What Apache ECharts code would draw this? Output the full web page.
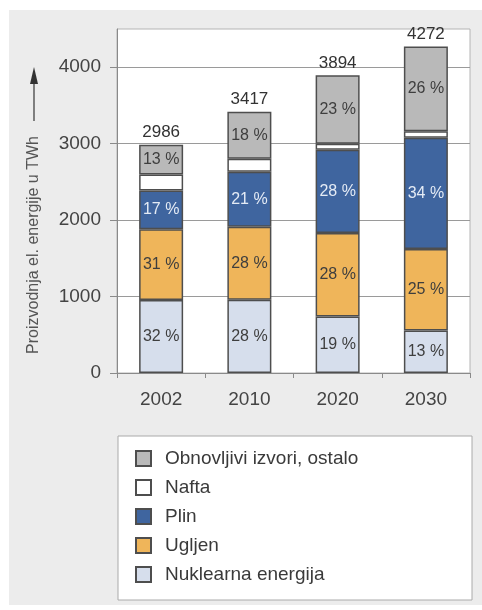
<!DOCTYPE html>
<html>
<head>
<meta charset="utf-8">
<script src="https://cdn.jsdelivr.net/npm/echarts@6/dist/echarts.min.js"></script>
<style>
  html, body { margin: 0; padding: 0; background: #fff; }
  #chart { width: 482px; height: 610px; }
</style>
</head>
<body>
<div id="chart"></div>
<script>
// Electricity generation by source (TWh) with shares in percent
const years = ['2002', '2010', '2020', '2030'];
const totals = [2986, 3417, 3894, 4272];
const nuclearPct = [32, 28, 19, 13];
const coalPct = [31, 28, 28, 25];
const gasPct = [17, 21, 28, 34];
const oilPct = [7, 5, 2, 2];
const renewPct = [13, 18, 23, 26];
const yTicks = [0, 1000, 2000, 3000, 4000];

const FONT = '"Liberation Sans", Arial, Helvetica, sans-serif';
const BORDER = '#4e4e4e';

function share(pcts) {
  return pcts.map((p, i) => totals[i] * p / 100);
}

function segment(name, pcts, color, labelColor, showLabel) {
  return {
    name: name,
    type: 'bar',
    stack: 'total',
    barWidth: 44,
    data: share(pcts),
    itemStyle: { color: color, borderColor: BORDER, borderWidth: 1.5 },
    label: {
      show: showLabel,
      position: 'inside',
      fontFamily: FONT,
      fontSize: 16,
      color: labelColor,
      formatter: p => pcts[p.dataIndex] + ' %'
    },
    emphasis: { disabled: true }
  };
}

const chart = echarts.init(document.getElementById('chart'), null, { renderer: 'canvas' });

chart.setOption({
  backgroundColor: '#ffffff',
  animation: false,
  textStyle: { fontFamily: FONT },
  grid: {
    left: 117, right: 12, top: 29, bottom: 237,
    show: true, backgroundColor: '#ffffff', borderColor: '#b4b4b4', borderWidth: 1
  },
  legend: {
    orient: 'vertical',
    left: 135,
    top: 449,
    padding: 0,
    itemWidth: 15,
    itemHeight: 15,
    itemGap: 10,
    icon: 'rect',
    data: ['Obnovljivi izvori, ostalo', 'Nafta', 'Plin', 'Ugljen', 'Nuklearna energija'],
    textStyle: { fontFamily: FONT, fontSize: 19, color: '#3a3a3a', padding: [0, 0, 0, 9] },
    selectedMode: false
  },
  xAxis: {
    type: 'category',
    data: years,
    axisLine: { lineStyle: { color: '#8a8a8a', width: 1 } },
    axisTick: { show: true, alignWithLabel: false, length: 5, lineStyle: { color: '#8a8a8a' } },
    axisLabel: { fontFamily: FONT, fontSize: 19, color: '#444', margin: 17 }
  },
  yAxis: {
    type: 'value',
    min: 0,
    max: 4500,
    interval: 1000,
    axisLine: { show: true, lineStyle: { color: '#8a8a8a', width: 1 } },
    axisTick: { show: true, length: 7, lineStyle: { color: '#8a8a8a' }, customValues: yTicks },
    axisLabel: {
      fontFamily: FONT, fontSize: 19, color: '#444', margin: 16,
      customValues: yTicks,
      formatter: v => String(v)
    },
    splitLine: { show: true, lineStyle: { color: '#9a9a9a', width: 1 } }
  },
  series: [
    segment('Nuklearna energija', nuclearPct, '#d6deec', '#3e3e3e', true),
    segment('Ugljen', coalPct, '#efb55a', '#3e3e3e', true),
    segment('Plin', gasPct, '#3f659f', '#e4ebf5', true),
    segment('Nafta', oilPct, '#ffffff', '#3e3e3e', false),
    segment('Obnovljivi izvori, ostalo', renewPct, '#b9b9b9', '#3e3e3e', true),
    {
      // zero-height cap carrying the total of each column
      name: 'Ukupno',
      type: 'bar',
      stack: 'total',
      barWidth: 44,
      data: totals.map(() => 0),
      itemStyle: { color: 'rgba(0,0,0,0)', borderWidth: 0 },
      label: {
        show: true,
        position: 'top',
        distance: 4,
        fontFamily: FONT,
        fontSize: 17,
        color: '#333',
        formatter: p => String(totals[p.dataIndex])
      },
      emphasis: { disabled: true }
    }
  ],
  graphic: [
    {
      type: 'rect', z: -10, silent: true,
      shape: { x: 9, y: 10, width: 473, height: 595 },
      style: { fill: '#ececec' }
    },
    {
      type: 'rect', z: 1, silent: true,
      shape: { x: 118, y: 436, width: 354, height: 164 },
      style: { fill: '#ffffff', stroke: '#aaaaaa', lineWidth: 1 }
    },
    {
      type: 'text', z: 5, silent: true,
      x: 34, y: 245, rotation: Math.PI / 2,
      style: {
        text: 'Proizvodnja el. energije u TWh',
        fontFamily: FONT, fontSize: 16, fill: '#555',
        align: 'center', verticalAlign: 'middle'
      }
    },
    {
      type: 'line', z: 5, silent: true,
      shape: { x1: 34, y1: 121, x2: 34, y2: 82 },
      style: { stroke: '#444', lineWidth: 1.3 }
    },
    {
      type: 'polygon', z: 5, silent: true,
      shape: { points: [[34, 67], [30, 84], [38, 84]] },
      style: { fill: '#333' }
    }
  ]
});
</script>
</body>
</html>
